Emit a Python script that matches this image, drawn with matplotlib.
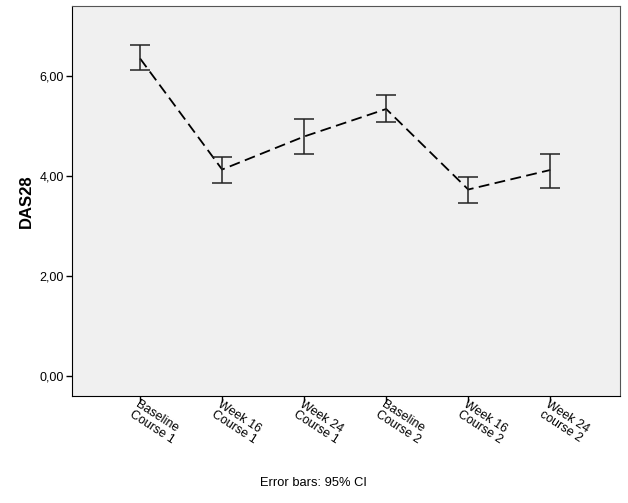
import matplotlib.pyplot as plt
import numpy as np

plt.rcParams['font.family'] = ['Liberation Sans', 'DejaVu Sans']

# timepoints and DAS28 means with 95% CI
labels = ["Baseline\nCourse 1", "Week 16\nCourse 1", "Week 24\nCourse 1",
          "Baseline\nCourse 2", "Week 16\nCourse 2", "Week 24\ncourse 2"]
means = [6.35, 4.13, 4.79, 5.34, 3.73, 4.12]
ci_low = [6.13, 3.86, 4.44, 5.08, 3.46, 3.77]
ci_high = [6.62, 4.39, 5.15, 5.63, 3.99, 4.45]

fig = plt.figure(figsize=(6.28, 5.03), dpi=100)
ax = fig.add_axes([72 / 628, 1 - 396 / 503, 548 / 628, 390 / 503])
ax.set_facecolor("#f0f0f0")

x = np.arange(len(labels))
m = np.array(means)
err = [m - np.array(ci_low), np.array(ci_high) - m]

ax.plot(x, m, color="black", linestyle=(0, (6, 3)), linewidth=1.3)
ax.errorbar(x, m, yerr=err, fmt="none", ecolor="#222222", elinewidth=1.1,
            capsize=7.5, capthick=1.1)

ax.set_xlim(-0.83, 5.85)
ax.set_ylim(-0.4, 7.4)
ax.set_yticks([0, 2, 4, 6])
ax.set_yticklabels(["0,00", "2,00", "4,00", "6,00"], fontsize=9)
ax.set_xticks(x)
ax.set_xticklabels(labels, fontsize=9, rotation=-33, ha="left", va="top",
                   rotation_mode="anchor", linespacing=0.9)
ax.tick_params(axis="both", length=4, width=1, color="black")
ax.tick_params(axis="y", pad=2)
ax.tick_params(axis="x", pad=-2)

for side in ["top", "right"]:
    ax.spines[side].set_color("#555555")
for side in ["left", "bottom"]:
    ax.spines[side].set_color("black")

ax.set_ylabel("DAS28", fontsize=12, fontweight="bold")
ax.yaxis.set_label_coords(-0.07, 0.5)

fig.text(313 / 628, 1 - 483 / 503, "Error bars: 95% CI", fontsize=9.3,
         ha="center", va="center")

fig.savefig("out.png", dpi=100)
